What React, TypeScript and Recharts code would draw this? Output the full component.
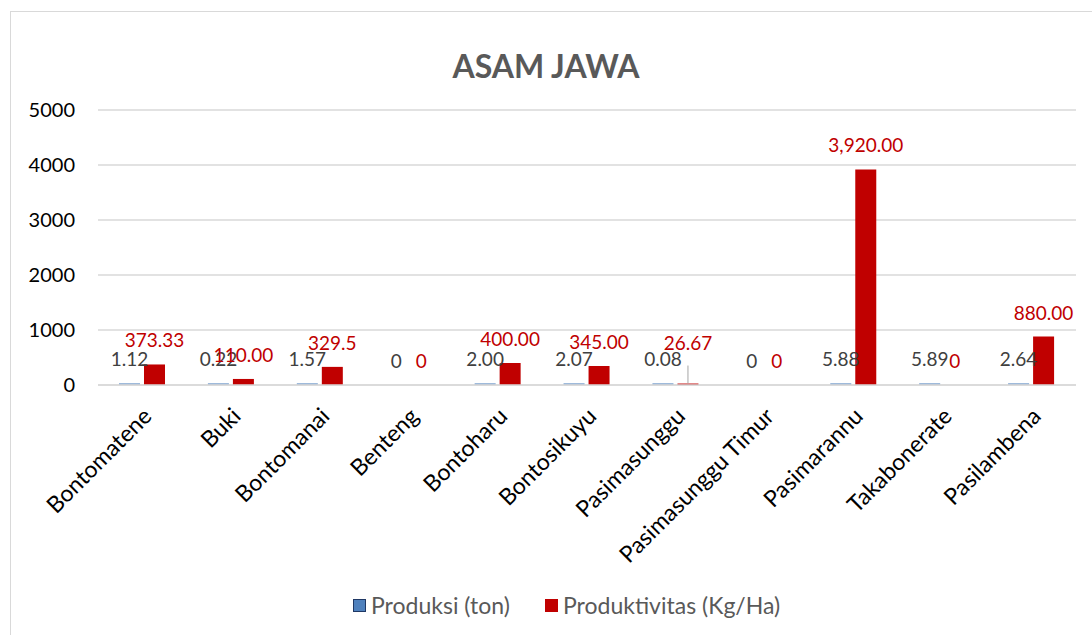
import React from 'react';
import { BarChart, Bar, XAxis, YAxis, CartesianGrid, LabelList } from 'recharts';

// Desa / kelurahan
const categories = [
  'Bontomatene',
  'Buki',
  'Bontomanai',
  'Benteng',
  'Bontoharu',
  'Bontosikuyu',
  'Pasimasunggu',
  'Pasimasunggu Timur',
  'Pasimarannu',
  'Takabonerate',
  'Pasilambena',
];

const produksi = [1.12, 0.22, 1.57, 0, 2.0, 2.07, 0.08, 0, 5.88, 5.89, 2.64];
const produksiLabels = ['1.12', '0.22', '1.57', '0', '2.00', '2.07', '0.08', '0', '5.88', '5.89', '2.64'];

const produktivitas = [373.33, 110, 329.5, 0, 400, 345, 26.67, 0, 3920, 0, 880];
const produktivitasLabels = ['373.33', '110.00', '329.5', '0', '400.00', '345.00', '26.67', '0', '3,920.00', '0', '880.00'];

const yTicks = [0, 1000, 2000, 3000, 4000, 5000];

const data = categories.map((name, i) => ({
  name,
  produksi: produksi[i],
  produktivitas: produktivitas[i],
  produksiLabel: produksiLabels[i],
  produktivitasLabel: produktivitasLabels[i],
}));

const FONT = 'Lato, "Open Sans", sans-serif';
const BLUE = '#4F81BD';
const RED = '#C00000';

const CategoryTick = (props: any) => {
  const { x, y, payload } = props;
  return (
    <g transform={`translate(${x - 1},${y + 13}) rotate(-45)`}>
      <text textAnchor="end" dy="0.72em" fill="#000" fontSize={23} fontFamily={FONT}>
        {payload.value}
      </text>
    </g>
  );
};

// tiny non-zero bars get their label lifted with a leader line, like Excel does
const makeLabel = (color: string, lift: boolean) => (props: any) => {
  const { x, y, width, height, value } = props;
  const cx = x + width / 2;
  const short = lift && value !== '0' && Math.abs(height) < 4;
  if (short) {
    return (
      <g>
        <line x1={cx} x2={cx} y1={y - 18} y2={y} stroke="#a6a6a6" strokeWidth={1} />
        <text x={cx} y={y - 34} textAnchor="middle" fill={color} fontSize={19} fontFamily={FONT}>
          {value}
        </text>
      </g>
    );
  }
  return (
    <text x={cx} y={y - 17} textAnchor="middle" fill={color} fontSize={19} fontFamily={FONT}>
      {value}
    </text>
  );
};

const LegendItem = ({ left, color, border, label }: { left: number; color: string; border: string; label: string }) => (
  <div style={{ position: 'absolute', left, top: 590, display: 'flex', alignItems: 'center', height: 30 }}>
    <div
      style={{
        width: 11,
        height: 11,
        background: color,
        border: `1.5px solid ${border}`,
        marginRight: 5,
      }}
    />
    <span style={{ color: '#595959', fontSize: 23 }}>{label}</span>
  </div>
);

export default function App() {
  return (
    <div
      style={{
        position: 'fixed',
        left: 0,
        top: 0,
        width: 1092,
        height: 635,
        overflow: 'hidden',
        background: '#fff',
        fontFamily: FONT,
      }}
    >
      {/* chart frame */}
      <div
        style={{
          position: 'absolute',
          left: 10,
          top: 11,
          width: 1110,
          height: 700,
          border: '1.5px solid #d9d9d9',
        }}
      />
      <div
        style={{
          position: 'absolute',
          left: 0,
          width: 1092,
          top: 46,
          textAlign: 'center',
          fontSize: 32,
          fontWeight: 700,
          color: '#595959',
        }}
      >
        ASAM JAWA
      </div>
      <div style={{ position: 'absolute', left: 0, top: 0 }}>
        <BarChart
          width={1092}
          height={635}
          data={data}
          margin={{ top: 110, right: 16, bottom: 0, left: 0 }}
          barSize={21}
          barGap={4}
        >
          <CartesianGrid vertical={false} stroke="#d9d9d9" strokeWidth={1.5} />
          <XAxis
            dataKey="name"
            interval={0}
            height={250}
            axisLine={{ stroke: '#d9d9d9', strokeWidth: 1.5 }}
            tickLine={false}
            tick={<CategoryTick />}
          />
          <YAxis
            width={98}
            domain={[0, 5000]}
            ticks={yTicks}
            axisLine={false}
            tickLine={false}
            tickMargin={17}
            tick={{ fill: '#000', fontSize: 20, fontFamily: FONT }}
          />
          <Bar
            dataKey="produksi"
            fill={BLUE}
            fillOpacity={0.55}
            minPointSize={(v: number) => (v > 0 ? 2 : 0.01)}
            isAnimationActive={false}
          >
            <LabelList dataKey="produksiLabel" content={makeLabel('#404040', false)} />
          </Bar>
          <Bar
            dataKey="produktivitas"
            fill={RED}
            minPointSize={(v: number) => (v > 0 ? 1 : 0.01)}
            isAnimationActive={false}
          >
            <LabelList dataKey="produktivitasLabel" content={makeLabel(RED, true)} />
          </Bar>
        </BarChart>
      </div>
      <LegendItem left={353} color={BLUE} border="#1F3864" label="Produksi (ton)" />
      <LegendItem left={545} color={RED} border={RED} label="Produktivitas (Kg/Ha)" />
    </div>
  );
}
